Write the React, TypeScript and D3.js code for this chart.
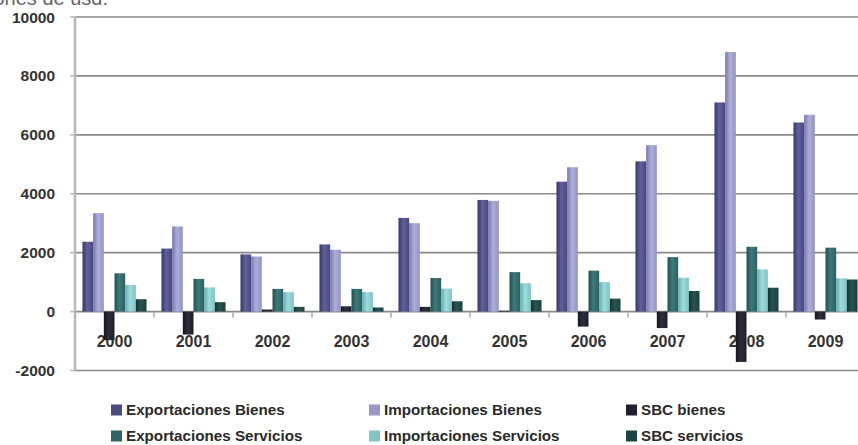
import React from 'react';
import * as d3 from 'd3';

const years = ['2000', '2001', '2002', '2003', '2004', '2005', '2006', '2007', '2008', '2009'];
const expBienes = [2370, 2140, 1940, 2280, 3180, 3790, 4410, 5100, 7100, 6420];
const impBienes = [3340, 2890, 1870, 2100, 3000, 3760, 4900, 5650, 8810, 6680];
const sbcBienes = [-970, -780, 70, 180, 160, 30, -510, -560, -1710, -270];
const expServicios = [1300, 1110, 770, 770, 1140, 1340, 1390, 1850, 2200, 2170];
const impServicios = [900, 820, 660, 660, 780, 960, 1000, 1150, 1430, 1130];
const sbcServicios = [420, 320, 160, 140, 350, 390, 440, 700, 810, 1090];
const yTicks = [-2000, 0, 2000, 4000, 6000, 8000, 10000];

type Series = {
  key: string;
  name: string;
  values: number[];
  color: string;
  stops: [string, string, string];
};

const series: Series[] = [
  { key: 'expB', name: 'Exportaciones Bienes', values: expBienes, color: '#4b4b82', stops: ['#37376a', '#60609c', '#484880'] },
  { key: 'impB', name: 'Importaciones Bienes', values: impBienes, color: '#9898c8', stops: ['#7676a8', '#aeaedc', '#9494c4'] },
  { key: 'sbcB', name: 'SBC bienes', values: sbcBienes, color: '#20202c', stops: ['#16161f', '#2e2e3c', '#1e1e2a'] },
  { key: 'expS', name: 'Exportaciones Servicios', values: expServicios, color: '#2f6464', stops: ['#234f4f', '#3d7a7a', '#2c6060'] },
  { key: 'impS', name: 'Importaciones Servicios', values: impServicios, color: '#80c4c6', stops: ['#62aaae', '#a0dcdc', '#7cc2c4'] },
  { key: 'sbcS', name: 'SBC servicios', values: sbcServicios, color: '#1e4444', stops: ['#153333', '#2a5454', '#1c4040'] },
];

const W = 858;
const H = 445;
const left = 75;
const top = 17;
const bottom = 370.5;

const App: React.FC = () => {
  const x0 = d3.scaleBand<string>().domain(years).range([left, left + 79 * years.length]).paddingInner(0);
  const x1 = d3.scaleBand<string>().domain(series.map(s => s.key)).range([0, x0.bandwidth()]).paddingOuter(0.7);
  const y = d3.scaleLinear().domain([-2000, 10000]).range([bottom, top]);
  const zero = y(0);
  const font = '"Liberation Sans", Arial, sans-serif';

  return (
    <svg width={W} height={H} style={{ position: 'absolute', left: 0, top: 0, background: '#fff' }}>
      <defs>
        {series.map(s => (
          <linearGradient key={s.key} id={`g-${s.key}`} x1="0" x2="1" y1="0" y2="0">
            <stop offset="0%" stopColor={s.stops[0]} />
            <stop offset="45%" stopColor={s.stops[1]} />
            <stop offset="100%" stopColor={s.stops[2]} />
          </linearGradient>
        ))}
      </defs>

      {/* title, cut at the top as in the source image */}
      <text x={108} y={5} textAnchor="end" fontFamily={font} fontSize={20} fill="#666">Millones de usd.</text>

      {/* gridlines + y axis labels */}
      {yTicks.map(t => (
        <g key={t}>
          <line x1={left} x2={W} y1={y(t)} y2={y(t)} stroke="#8a8a8a" strokeWidth={1.7} />
          <line x1={left - 5} x2={left} y1={y(t)} y2={y(t)} stroke="#c0c0c0" strokeWidth={1.7} />
          <text x={55} y={y(t)} dy="0.36em" textAnchor="end" fontFamily={font} fontWeight="bold" fontSize={15.5} fill="#333">
            {t}
          </text>
        </g>
      ))}
      <line x1={left} x2={left} y1={top} y2={bottom} stroke="#b8b8b8" strokeWidth={2.5} />

      {/* category ticks */}
      {years.map(yr => (
        <line key={yr} x1={(x0(yr) ?? 0) + x0.bandwidth()} x2={(x0(yr) ?? 0) + x0.bandwidth()} y1={zero + 1} y2={zero + 6} stroke="#b0b0b0" strokeWidth={1.6} />
      ))}

      {/* year labels (bars are drawn over them) */}
      {years.map(yr => (
        <text key={yr} x={(x0(yr) ?? 0) + x0.bandwidth() / 2} y={zero + 30} dy="0.36em" textAnchor="middle" fontFamily={font} fontWeight="bold" fontSize={16} fill="#333">
          {yr}
        </text>
      ))}

      {/* bars */}
      {years.map((yr, i) => (
        <g key={yr} transform={`translate(${x0(yr)},0)`}>
          {series.map(s => {
            const v = s.values[i];
            const y0 = Math.min(y(v), zero);
            const h = Math.abs(y(v) - zero);
            return <rect key={s.key} x={x1(s.key)} y={y0} width={x1.bandwidth()} height={h} fill={`url(#g-${s.key})`} />;
          })}
        </g>
      ))}

      {/* legend */}
      {series.map((s, i) => {
        const col = i % 3;
        const row = Math.floor(i / 3);
        const lx = [111, 369, 626][col];
        const ly = [410, 436][row];
        return (
          <g key={s.key}>
            <rect x={lx} y={ly - 5.5} width={11} height={11} fill={s.color} />
            <text x={lx + 15} y={ly} dy="0.34em" fontFamily={font} fontWeight="bold" fontSize={15.2} fill="#2a2a2a">
              {s.name}
            </text>
          </g>
        );
      })}
    </svg>
  );
};

export default App;
